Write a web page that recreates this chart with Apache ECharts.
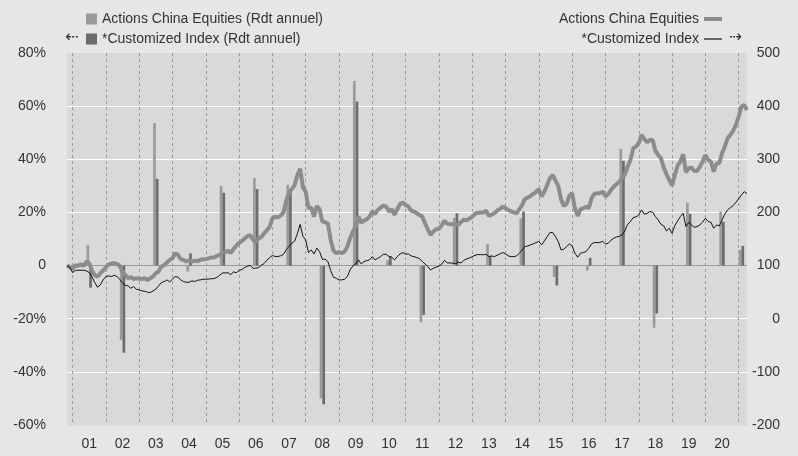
<!DOCTYPE html>
<html><head><meta charset="utf-8">
<script src="https://cdn.jsdelivr.net/npm/echarts@6/dist/echarts.min.js"></script>
<style>html,body{margin:0;padding:0;background:#e6e6e6}#c{width:798px;height:456px}</style>
</head><body><div id="c"></div>
<script>
// first monthly observation: Nov 2000
const startYear = 2000, startMonth = 11;

// Monthly index levels (right axis), base 100
const actionsIndex = [
100,96.9,93.1,100.6,99.4,102.5,99.4,107.5,104.4,90.6,
81.8,79.3,85.6,90.6,96.9,101.9,103.8,104.4,103.1,99.4,
88.7,82.4,76.2,78.1,74.3,76.2,75.5,74.3,76.2,73.0,
76.2,79.3,85.6,88.7,98.1,100.6,105.6,110.7,113.8,123.2,
120.1,111.9,110.7,107.5,110.7,107.5,109.4,108.2,110.7,111.9,
112,113.5,115,115,118,120,124,125,128,124,
131,137.5,142.5,146.4,150.8,155.2,157.1,148.9,144.5,150.8,
153.9,160.2,166.5,172.7,189,192,191,194,200,222,
237,244,251,270,282,247,239.2,207.8,209.7,192.2,
212.2,206.0,182.8,181.5,179.6,148.3,128.2,123.2,125.1,123.2,
126.3,135.7,151.4,164.0,173.4,192.2,180.9,184.6,187.2,192.2,
201.6,197.2,204.7,209.1,212.9,211.0,201.6,206.0,195.3,206.0,
216.0,218.5,214.1,211.0,203.5,201.6,198.4,195.3,192.2,179.6,
168.3,157.7,164.0,168.3,169,175.9,184.0,179.0,177.7,177.7,
177.7,176.5,182.1,186.5,185.3,188.4,191.8,197.2,199.1,199.7,
199.7,203.5,193.4,195.9,198.4,203.5,206.6,211.0,207.8,204.7,
202.2,200.3,198.4,206.0,214.1,225.4,227.9,231.0,234.8,238.6,
243.6,229.8,239.2,251.7,264.3,270.5,259.9,249.9,224.8,212.2,
216.0,231.0,236.1,207.8,193.4,206.0,207.8,211.0,207.8,226.7,
234.8,236.1,236.1,239.2,230.4,234.2,242.3,248.6,253.0,258.0,
264.3,271.8,286.2,298.8,320.7,323.8,330.1,345.8,338.3,332.0,
336.4,336.4,315.7,308.2,301.9,284.3,271.8,261.1,250.5,270.5,
288.1,295.6,309.4,275.6,283.1,284.3,278.1,278.1,285.6,295.6,
308.2,298.8,295.6,276.8,292.5,292.5,311.3,323.8,339.5,345.8,
353.3,364.6,380.3,399.1,402.2,392.8
];
const customIndex = [
100,96.9,86.8,90.6,91.2,91.2,91.2,90.0,86.8,79.3,
68.0,59.2,63.6,73.0,79.3,80.6,79.3,81.8,79.3,74.3,
66.8,63.0,61.8,57.4,60.5,55.5,54.2,52.3,51.7,49.8,
49.2,52.3,55.5,61.8,68.0,69.9,73.0,69.3,74.3,79.3,
78.1,73.0,69.9,68.6,68.6,71.2,69.9,72.4,73.0,74.3,
74.3,74.6,75.2,75.5,77.7,81.8,85.9,86.2,86.5,83,
88.1,86.5,91,92.5,96.2,98.7,100.6,95.0,95.0,96.2,
100.6,103.8,110.0,115.0,119,117,117,118.5,121,130,
136,142,146,160,177.5,155,148.3,124.5,129.5,121.9,
132.6,126.3,111.9,111.9,107.5,90.6,78.1,76.2,73.0,73.0,
74.3,79.3,91.8,99.4,103.1,110.7,103.1,107.5,109.4,110.7,
116.9,110.7,113.8,116.9,121.3,121.3,116.9,115.7,110.7,116.9,
121.9,124.5,121.3,121.9,118.2,116.9,115.0,113.2,107.5,103.1,
98.1,91.8,95.0,96.9,98.8,102.5,110.0,105.0,105.0,104.4,
103.8,106.3,105.0,110.0,112.5,114.4,116.6,119.4,120.7,120.7,
120.1,121.3,116.9,118.2,116.9,119.4,121.9,124.5,121.9,118.2,
116.9,116.9,118.2,123.2,129.5,135.7,137.0,138.9,140.8,143.3,
145.1,138.9,146.4,154.5,162.1,162.1,154.5,145.1,129.5,130.7,
135.7,140.8,137.0,123.2,115.7,123.2,124.5,126.3,132.6,140.8,
143.3,143.3,143.3,145.8,140.5,142.0,147.7,151.4,153.9,155.2,
157.7,165.2,177.7,182.8,190.3,191.5,195.3,204.7,196.6,198.4,
201.6,200.3,192.2,185.9,177.7,174.6,165.2,170.2,160.8,175.2,
184.0,192.2,198.4,173.4,181.5,176.5,172.1,173.4,176.5,181.5,
189.0,182.8,181.5,170.2,176.5,174.6,185.9,196.6,204.7,209.1,
212.9,219.1,225.4,232.9,239.2,235.4
];

// Annual returns (left axis, %)
const barDates = ['2001-07','2002-07','2003-07','2004-07','2005-07','2006-07','2007-07','2008-07','2009-07','2010-07',
  '2011-07','2012-07','2013-07','2014-07','2015-07','2016-07','2017-07','2018-07','2019-07','2020-07','2021-02'];
const actionsAnnual = [7.8,-28,53.6,-2.3,30,32.9,30.4,-50,69.5,2.0,-21.3,18,8.1,17.8,-4.3,-1.9,43.9,-23.4,23.7,20.3,5.9];
const customAnnual  = [-8.3,-32.8,32.6,4.6,27.4,28.8,28.7,-52.2,61.7,3.5,-18.6,19.7,3.6,20.3,-7.5,2.9,39.4,-18,19.4,16.5,7.4];

const nameBarA = 'Actions China Equities (Rdt annuel)';
const nameBarC = '*Customized Index (Rdt annuel)';
const nameLineA = 'Actions China Equities';
const nameLineC = '*Customized Index';

const months = actionsIndex.map((_, i) => {
  const m = startMonth - 1 + i;
  const y = startYear + Math.floor(m / 12);
  return y + '-' + String(m % 12 + 1).padStart(2, '0');
});

const FONT = "'Liberation Sans', Arial, Helvetica, sans-serif";
const TXT = '#333333';
const FS = 14;

const chart = echarts.init(document.getElementById('c'), null, {renderer: 'canvas'});
chart.setOption({
  animation: false,
  backgroundColor: '#e6e6e6',
  textStyle: {fontFamily: FONT},
  grid: {left: 67, right: 51, top: 53, bottom: 31, show: true, backgroundColor: '#d9d9d9', borderWidth: 0, outerBoundsMode: 'none'},
  legend: [
    {orient: 'vertical', left: 86, top: 12, padding: 0, itemWidth: 11, itemHeight: 11, itemGap: 6, icon: 'rect',
     textStyle: {fontSize: FS, color: TXT, fontFamily: FONT, lineHeight: 14}, data: [nameBarA, nameBarC], selectedMode: false},
    {orient: 'vertical', right: 76, top: 12, padding: 0, itemWidth: 18, itemHeight: 11, itemGap: 6, align: 'right',
     textStyle: {fontSize: FS, color: TXT, fontFamily: FONT, lineHeight: 14},
     data: [
       {name: nameLineA, icon: 'path://M0,0L18,0L18,4L0,4Z'},
       {name: nameLineC, icon: 'path://M0,0L18,0L18,1.2L0,1.2Z'}
     ], selectedMode: false}
  ],
  graphic: [
    {type: 'text', left: 65, top: 30, style: {text: '\u21E0', fontSize: 16, fill: '#333', fontFamily: 'DejaVu Sans'}},
    {type: 'text', left: 729, top: 30, style: {text: '\u21E2', fontSize: 16, fill: '#333', fontFamily: 'DejaVu Sans'}}
  ],
  xAxis: {
    type: 'category', data: months, boundaryGap: false,
    axisLine: {show: false}, axisTick: {show: false},
    axisLabel: {
      interval: (i, v) => v.slice(5) === '07' && v < '2021',
      formatter: v => v.slice(2, 4), margin: 12, color: TXT, fontSize: FS, fontFamily: FONT
    },
    splitLine: {show: true, interval: (i, v) => v.slice(5) === '01', lineStyle: {color: '#9a9a9a', width: 1, type: [3, 3]}}
  },
  yAxis: [
    {type: 'value', min: -60, max: 80, interval: 20, position: 'left',
     axisLine: {show: false}, axisTick: {show: false},
     axisLabel: {formatter: v => v === 0 ? '0' : v + '%', margin: 21, color: TXT, fontSize: FS, fontFamily: FONT},
     splitLine: {show: true, lineStyle: {width: 1, color: ['#d9d9d9', '#ffffff', '#ffffff', '#999999', '#ffffff', '#ffffff', '#ffffff', '#d9d9d9']}}},
    {type: 'value', min: -200, max: 500, interval: 100, position: 'right',
     axisLine: {show: false}, axisTick: {show: false},
     axisLabel: {align: 'right', margin: 33, color: TXT, fontSize: FS, fontFamily: FONT},
     splitLine: {show: false}}
  ],
  series: [
    {name: nameBarA, type: 'bar', yAxisIndex: 0, barWidth: 2.7, barGap: '0%',
     itemStyle: {color: '#9b9b9b'}, data: barDates.map((d, i) => [d, actionsAnnual[i]]), z: 2},
    {name: nameBarC, type: 'bar', yAxisIndex: 0, barWidth: 2.7, barGap: '0%',
     itemStyle: {color: '#6c6c6c'}, data: barDates.map((d, i) => [d, customAnnual[i]]), z: 2},
    {name: nameLineA, type: 'line', yAxisIndex: 1, data: actionsIndex, symbol: 'none', showSymbol: false,
     itemStyle: {color: '#8c8c8c'}, lineStyle: {color: '#8c8c8c', width: 4}, z: 3},
    {name: nameLineC, type: 'line', yAxisIndex: 1, data: customIndex, symbol: 'none', showSymbol: false,
     itemStyle: {color: '#111111'}, lineStyle: {color: '#111111', width: 1}, z: 4}
  ]
});
</script>
</body></html>
